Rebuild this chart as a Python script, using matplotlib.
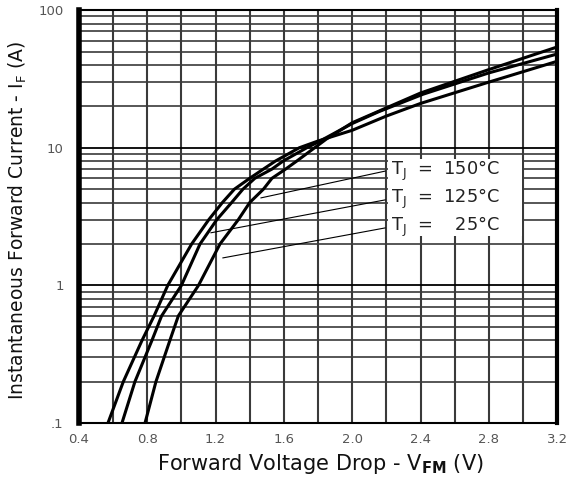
import numpy as np
import matplotlib
matplotlib.use('Agg')
import matplotlib.pyplot as plt
from matplotlib.ticker import MultipleLocator, LogLocator, NullFormatter, FixedLocator

plt.rcParams['font.family'] = ['DejaVu Sans']
plt.rcParams['mathtext.fontset'] = 'dejavusans'

# curves (V, A)
v_150 = [0.57, 0.66, 0.77, 0.84, 0.92, 1.06, 1.16, 1.24, 1.31, 1.40, 1.48, 1.55, 1.69, 1.80, 2.00, 2.20, 2.40, 2.80, 3.20]
i_150 = [0.1, 0.2, 0.4, 0.6, 1.0, 2.0, 3.0, 4.0, 5.0, 6.0, 7.0, 8.0, 10.0, 11.2, 13.4, 17.0, 21.0, 30.0, 42.5]

v_125 = [0.652, 0.728, 0.828, 0.884, 1.00, 1.109, 1.207, 1.294, 1.36, 1.43, 1.53, 1.595, 1.734, 1.80, 2.00, 2.156, 2.415, 2.80, 3.20]
i_125 = [0.1, 0.2, 0.4, 0.6, 1.0, 2.0, 3.0, 4.0, 5.0, 6.0, 7.0, 8.0, 10.0, 11.0, 15.0, 18.3, 24.5, 35.0, 48.0]

v_25 = [0.787, 0.851, 0.933, 0.982, 1.10, 1.226, 1.333, 1.40, 1.48, 1.53, 1.61, 1.675, 1.78, 1.85, 2.00, 2.20, 2.40, 2.80, 3.20]
i_25 = [0.1, 0.2, 0.4, 0.6, 1.0, 2.0, 3.0, 4.0, 5.0, 6.0, 7.0, 8.0, 10.0, 11.6, 15.2, 19.5, 25.0, 37.0, 54.0]

labels = ['T$_\\mathregular{J}$  =  150\u00b0C', 'T$_\\mathregular{J}$  =  125\u00b0C', 'T$_\\mathregular{J}$  =    25\u00b0C']
label_v = [2.21, 2.21, 2.21]
label_i = [6.84, 4.22, 2.64]
leader_v = [1.449, 1.156, 1.226]
leader_i = [4.28, 2.39, 1.57]

fig = plt.figure(figsize=(5.72, 4.84), dpi=100)
ax = fig.add_axes([0.138, 0.126, 0.836, 0.853])

for v, i in [(v_150, i_150), (v_125, i_125), (v_25, i_25)]:
    ax.plot(v, i, color='black', lw=2.2, solid_capstyle='round', solid_joinstyle='round', zorder=4)

ax.set_yscale('log')
ax.set_xlim(0.4, 3.2)
ax.set_ylim(0.1, 100)

ax.xaxis.set_major_locator(MultipleLocator(0.4))
ax.xaxis.set_minor_locator(MultipleLocator(0.2))
ax.yaxis.set_major_locator(FixedLocator([0.1, 1, 10, 100]))
ax.yaxis.set_minor_locator(LogLocator(base=10, subs=np.arange(2, 10)))
ax.yaxis.set_minor_formatter(NullFormatter())
ax.set_yticklabels(['.1', '1', '10', '100'])
ax.set_xticklabels(['%.1f' % t for t in ax.get_xticks()])

ax.grid(which='major', axis='y', color='black', lw=1.3)
ax.grid(which='minor', axis='y', color='#3a3a3a', lw=1.2)
ax.grid(which='both', axis='x', color='#3a3a3a', lw=1.5)
ax.tick_params(which='both', length=0, labelsize=9.5, labelcolor='#555555')
ax.tick_params(axis='y', pad=11)
ax.tick_params(axis='x', pad=7)

ax.spines['left'].set_linewidth(4.0)
ax.spines['right'].set_linewidth(3.0)
ax.spines['top'].set_linewidth(1.5)
ax.spines['bottom'].set_linewidth(1.5)

# label box covering the grid
for k in range(3):
    ax.annotate('', xy=(leader_v[k], leader_i[k]), xytext=(label_v[k], label_i[k]),
                arrowprops=dict(arrowstyle='-', color='black', lw=0.8), zorder=5)
    ax.text(label_v[k] + 0.015, label_i[k], labels[k], fontsize=12.8, va='center', ha='left',
            zorder=6, color='#222222')
ax.fill_between([2.21, 2.995], 2.3, 8.3, color='white', zorder=3, lw=0)

ax.set_xlabel('Forward Voltage Drop - V$_{\\mathbf{FM}}$ (V)', fontsize=15, color='#111111')
ax.xaxis.set_label_coords(0.505, -0.07)
ax.set_ylabel('Instantaneous Forward Current - I$_\\mathregular{F}$ (A)', fontsize=13.5, color='#111111')
ax.yaxis.set_label_coords(-0.105, 0.49)

fig.savefig('out.png', dpi=100)
